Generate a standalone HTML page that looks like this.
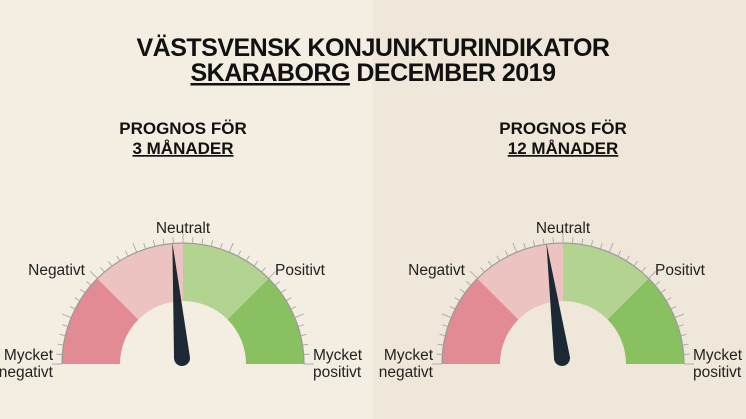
<!DOCTYPE html>
<html><head><meta charset="utf-8"><style>
body{margin:0;width:746px;height:419px;overflow:hidden;font-family:"Liberation Sans",sans-serif}
svg{display:block}
</style></head><body>
<svg width="746" height="419" viewBox="0 0 746 419">
<rect x="0" y="0" width="373" height="419" fill="#f3ede2"/>
<rect x="373" y="0" width="373" height="419" fill="#efe7d9"/>
<g font-weight="bold" fill="#111" text-anchor="middle">
<text x="373" y="56" font-size="25" letter-spacing="-0.5">VÄSTSVENSK KONJUNKTURINDIKATOR</text>
<text x="373" y="81" font-size="25" letter-spacing="-0.5"><tspan text-decoration="underline">SKARABORG</tspan> DECEMBER 2019</text>
<text x="183" y="134" font-size="17">PROGNOS FÖR</text>
<text x="183" y="154" font-size="17" text-decoration="underline">3 MÅNADER</text>
<text x="563" y="134" font-size="17">PROGNOS FÖR</text>
<text x="563" y="154" font-size="17" text-decoration="underline">12 MÅNADER</text>
</g>
<g id="gauges"></g>
</svg>
<script>
const gaugeNames = ["gauge-3-months","gauge-12-months"];
const gaugeValues = [-5.3, -8.6];
const segmentColors = ["#e38b94","#ecc3c0","#b3d390","#8ac160"];
const NS="http://www.w3.org/2000/svg";
const centers=[183,563], CY=364, R=121, RI=63;
const g=document.getElementById('gauges');
function pt(cx,a,r){return [cx+r*Math.cos(a), CY-r*Math.sin(a)];}
function valToAngle(v){return Math.PI/2 - (v/100)*Math.PI/2;}
function mk(tag,attrs){const e=document.createElementNS(NS,tag);for(const k in attrs)e.setAttribute(k,attrs[k]);return e;}
gaugeValues.forEach((v,i)=>{
  const cx=centers[i];
  const grp=mk('g',{});
  
  
  segmentColors.forEach((c,s)=>{
    const a0=Math.PI - s*Math.PI/4, a1=Math.PI-(s+1)*Math.PI/4;
    const p0=pt(cx,a0,R),p1=pt(cx,a1,R),q1=pt(cx,a1,RI),q0=pt(cx,a0,RI);
    const p=mk('path',{d:`M${p0}A${R},${R} 0 0 1 ${p1}L${q1}A${RI},${RI} 0 0 0 ${q0}Z`,fill:c});
    
    
    grp.appendChild(p);
  });
  const arc=mk('path',{d:`M${pt(cx,Math.PI,R)}A${R},${R} 0 0 1 ${pt(cx,0,R)}`,fill:'none',stroke:'#9a9a9a','stroke-width':1.2});
  
  
  grp.appendChild(arc);
  for(let t=0;t<=40;t++){
    const a=Math.PI - t*Math.PI/40, len=(t%5===0)?10:6;
    const a1=pt(cx,a,R),a2=pt(cx,a,R+len);
    const l=mk('line',{x1:a1[0],y1:a1[1],x2:a2[0],y2:a2[1],stroke:'#a8a8a8','stroke-width':0.9});
    
    
    grp.appendChild(l);
  }
  const labels=[["Neutralt",cx,233,"middle"],["Negativt",cx-98,275,"end"],["Positivt",cx+92,275,"start"],["Mycket",cx-130,360,"end"],["negativt",cx-130,377,"end"],["Mycket",cx+130,360,"start"],["positivt",cx+130,377,"start"]];
  labels.forEach(L=>{
    const t=mk('text',{x:L[1],y:L[2],'text-anchor':L[3],'font-size':15.5,fill:'#222'});
    t.textContent=L[0];
    
    
    grp.appendChild(t);
  });
  const a=valToAngle(v), px=cx-1, py=358;
  const tip=[px+116*Math.cos(a), py-116*Math.sin(a)];
  const pa=a+Math.PI/2, w=8;
  const b1=[px+w*Math.cos(pa),py-w*Math.sin(pa)], b2=[px-w*Math.cos(pa),py+w*Math.sin(pa)];
  const n=mk('path',{d:`M${b1}L${tip}L${b2}A${w},${w} 0 0 1 ${b1}Z`,fill:'#1c2935'});
  
  
  grp.appendChild(n);
  g.appendChild(grp);
});
</script>
</body></html>
